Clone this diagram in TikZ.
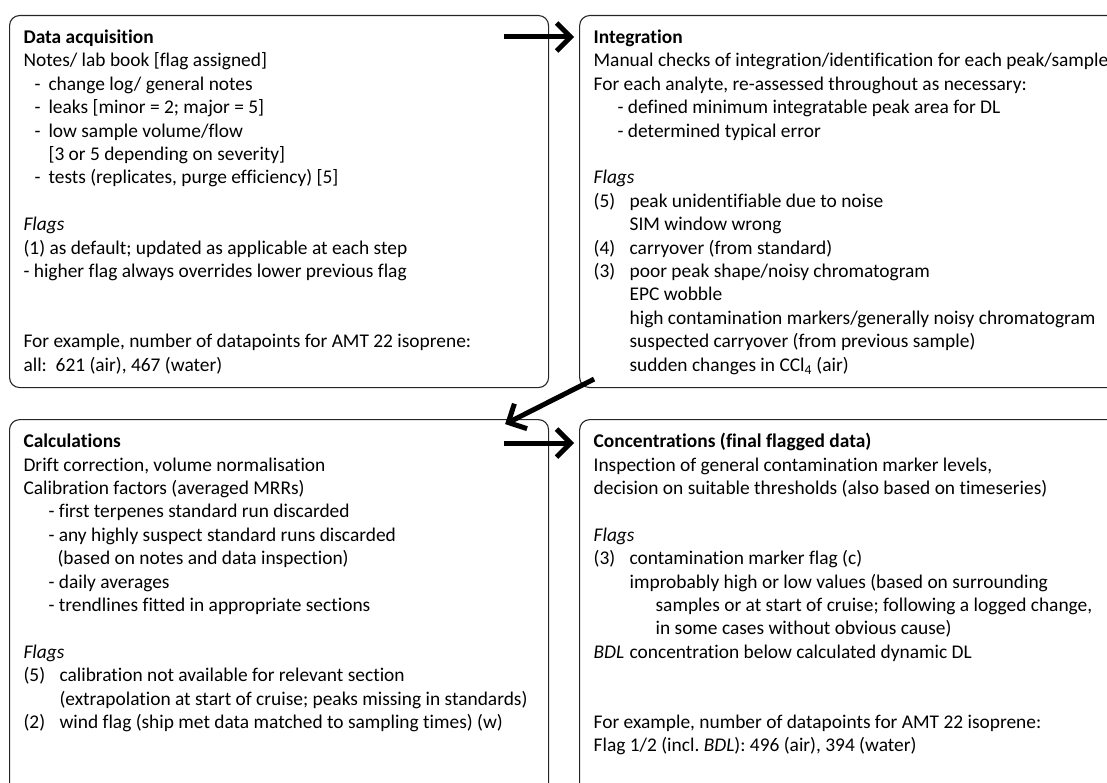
\documentclass[tikz,border=0pt]{standalone}
\usepackage{fontspec}
\setmainfont{Carlito}[Ligatures=NoCommon]
\usetikzlibrary{arrows.meta,positioning}

\newcommand{\itm}[1]{\hspace*{11pt}\makebox[14pt][l]{-}#1}
\newcommand{\flg}[2]{\makebox[36pt][l]{#1}#2}
\newcommand{\lines}[1]{{\spaceskip=0.226em\relax\xspaceskip=0.226em\relax
  \begin{tabular}[t]{@{}l@{}}#1\end{tabular}}}

\begin{document}
\begin{tikzpicture}[x=1pt,y=1pt,node distance=30pt,
    stage/.style={draw=black!85,line width=1.1pt,rounded corners=10pt,
                  text width=511pt,align=left,inner xsep=14pt,inner ysep=14pt,
                  text height=14pt,text depth=330pt,
                  font=\fontsize{19.4}{23.4}\selectfont},
    flow/.style={-{Straight Barb[length=14pt,width=28pt]},line width=5pt}]

    \useasboundingbox (0,0) rectangle (1107,-783);

    \node[stage,anchor=north west] (acq) at (9,-15)
      {\lines{\textbf{Data acquisition}\\
       Notes/ lab book [flag assigned]\\
       \itm{change log/ general notes}\\
       \itm{leaks [minor = 2; major = 5]}\\
       \itm{low sample volume/flow}\\
       \hspace*{25pt}[3 or 5 depending on severity]\\
       \itm{tests (replicates, purge efficiency) [5]}\\[23.4pt]
       \textit{Flags}\\
       (1) as default; updated as applicable at each step\\
       - higher flag always overrides lower previous flag\\[46.8pt]
       For example, number of datapoints for AMT 22 isoprene:\\
       all:\ \ 621 (air), 467 (water)}};
    \node[stage,right=of acq] (integ)
      {\lines{\textbf{Integration}\\
       Manual checks of integration/identification for each peak/sample\\
       For each analyte, re-assessed throughout as necessary:\\
       \hspace*{24pt}- defined minimum integratable peak area for DL\\
       \hspace*{24pt}- determined typical error\\[23.4pt]
       \textit{Flags}\\
       \flg{(5)}{peak unidentifiable due to noise}\\
       \hspace*{36pt}SIM window wrong\\
       \flg{(4)}{carryover (from standard)}\\
       \flg{(3)}{poor peak shape/noisy chromatogram}\\
       \hspace*{36pt}EPC wobble\\
       \hspace*{36pt}high contamination markers/generally noisy chromatogram\\
       \hspace*{36pt}suspected carryover (from previous sample)\\
       \hspace*{36pt}sudden changes in CCl\textsubscript{4} (air)}};
    \node[stage,text depth=338pt,below=31pt of acq] (calc)
      {\lines{\textbf{Calculations}\\
       Drift correction, volume normalisation\\
       Calibration factors (averaged MRRs)\\
       \hspace*{25pt}- first terpenes standard run discarded\\
       \hspace*{25pt}- any highly suspect standard runs discarded\\
       \hspace*{34pt}(based on notes and data inspection)\\
       \hspace*{25pt}- daily averages\\
       \hspace*{25pt}- trendlines fitted in appropriate sections\\[23.4pt]
       \textit{Flags}\\
       \flg{(5)}{calibration not available for relevant section}\\
       \hspace*{36pt}(extrapolation at start of cruise; peaks missing in standards)\\
       \flg{(2)}{wind flag (ship met data matched to sampling times) (w)}}};
    \node[stage,text depth=338pt,right=of calc] (conc)
      {\lines{\textbf{Concentrations (final flagged data)}\\
       Inspection of general contamination marker levels,\\
       decision on suitable thresholds (also based on timeseries)\\[23.4pt]
       \textit{Flags}\\
       \flg{(3)}{contamination marker flag (c)}\\
       \hspace*{36pt}improbably high or low values (based on surrounding\\
       \hspace*{62pt}samples or at start of cruise; following a logged change,\\
       \hspace*{62pt}in some cases without obvious cause)\\
       \flg{\textit{BDL}}{concentration below calculated dynamic DL}\\[46.8pt]
       For example, number of datapoints for AMT 22 isoprene:\\
       Flag 1/2 (incl.\ \textit{BDL}): 496 (air), 394 (water)}};

    \draw[flow] ([xshift=-45pt,yshift=-22pt]acq.north east) -- ([xshift=-5pt,yshift=-22pt]integ.north west);
    \draw[flow] ([xshift=15pt,yshift=9pt]integ.south west) -- ([xshift=-44pt,yshift=-5pt]calc.north east);
    \draw[flow] ([xshift=-45pt,yshift=-24pt]calc.north east) -- ([xshift=-5pt,yshift=-24pt]conc.north west);
\end{tikzpicture}
\end{document}
